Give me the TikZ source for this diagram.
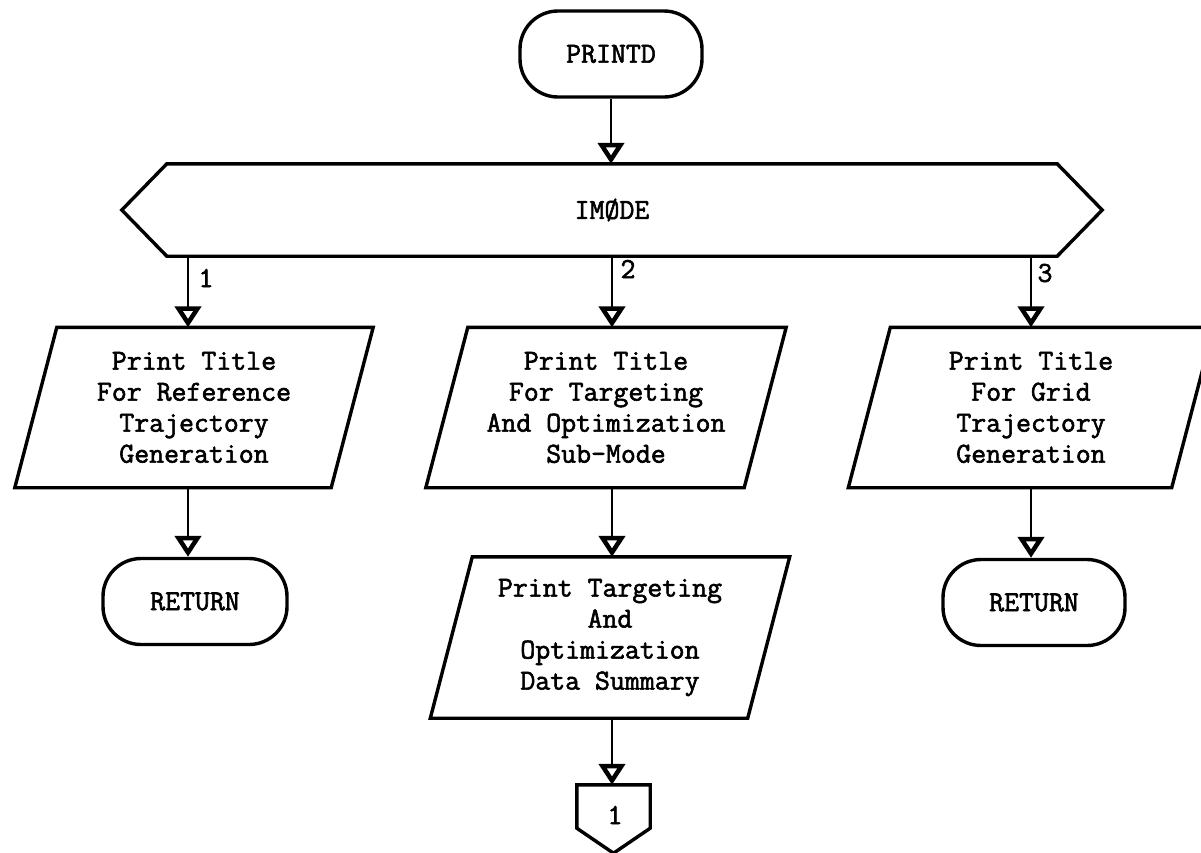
\documentclass[tikz,border=0pt]{standalone}
\usepackage{fontspec}
\usetikzlibrary{arrows.meta}

% typewriter lettering, heavier than the plain mono face
\newfontfamily\heavytt{Latin Modern Mono}[FakeBold=2]
\newcommand\typeface{\heavytt\fontsize{29}{31}\selectfont}

% slanted input/output box drawn around a (borderless) text node
\newcommand\slantbox[1]{%
  \draw[boxline] ([xshift=21pt]#1.north west) -- ([xshift=21pt]#1.north east)
    -- ([xshift=-21pt]#1.south east) -- ([xshift=-21pt]#1.south west) -- cycle;}

\begin{document}
\begin{tikzpicture}[x=1pt,y=-1pt,
  txt/.style={font=\typeface, align=center, inner sep=0pt},
  boxline/.style={line width=3.4pt, line join=miter},
  term/.style={txt, draw, boxline, rounded corners=38pt, minimum width=#1, minimum height=86pt},
  iobox/.style={txt, minimum width=#1, minimum height=160pt},
  lbl/.style={font=\typeface, inner sep=0pt},
  flow/.style={line width=2.2pt, -{Triangle[open, width=26pt, length=21pt, line width=4.5pt]}}
]
\useasboundingbox (0,0) rectangle (1201,852);
\clip (0,0) rectangle (1201,852);

% column positions of the three branches
\coordinate (b1) at (188,0);
\coordinate (b2) at (612,0);
\coordinate (b3) at (1031,0);

% entry
\node[term=182pt] (printd) at (611,54) {PRINTD};

% mode switch
\node[txt, minimum width=890pt, minimum height=92pt] (imode) at (612,210) {IMØDE};
\draw[boxline] (imode.north west) -- (imode.north east) -- ([xshift=45pt]imode.east)
  -- (imode.south east) -- (imode.south west) -- ([xshift=-45pt]imode.west) -- cycle;

% output boxes
\node[iobox=316pt] (p1) at (194,407.5) {Print Title\\For Reference\\Trajectory\\Generation};
\node[iobox=318pt] (p2) at (606,407.5) {Print Title\\For Targeting\\And Optimization\\Sub-Mode};
\node[iobox=323pt] (p3) at (1031,407.5) {Print Title\\For Grid\\Trajectory\\Generation};
\node[iobox=317pt, minimum height=161pt] (p4) at (610,637.5) {Print Targeting\\And\\Optimization\\Data Summary};
\slantbox{p1}
\slantbox{p2}
\slantbox{p3}
\slantbox{p4}

% exits
\node[term=184pt] (r1) at (195,601.5) {RETURN};
\node[term=182pt] (r3) at (1034,602.5) {RETURN};

% off-page connector
\node[lbl, minimum width=73pt, minimum height=43pt] (off) at (613.5,806.5) {};
\draw[boxline] (off.north west) -- (off.north east) -- (off.south east)
  -- ([yshift=-25pt]off.south) -- (off.south west) -- cycle;
\node[lbl] (offtxt) at (615,815) {1};

% connectors
\draw[flow] (printd.south) -- (printd.south |- imode.north);
\draw[flow] (b1 |- imode.south) -- (b1 |- p1.north);
\draw[flow] (b2 |- imode.south) -- (b2 |- p2.north);
\draw[flow] (b3 |- imode.south) -- (b3 |- p3.north);
\draw[flow] (b1 |- p1.south) -- (b1 |- r1.north);
\draw[flow] (b3 |- p3.south) -- (b3 |- r3.north);
\draw[flow] (b2 |- p2.south) -- (b2 |- p4.north);
\draw[flow] (b2 |- p4.south) -- (b2 |- off.north);

% branch labels
\node[lbl] (c1) at (206,278) {1};
\node[lbl] (c2) at (628,269) {2};
\node[lbl] (c3) at (1045,273) {3};
\end{tikzpicture}
\end{document}
